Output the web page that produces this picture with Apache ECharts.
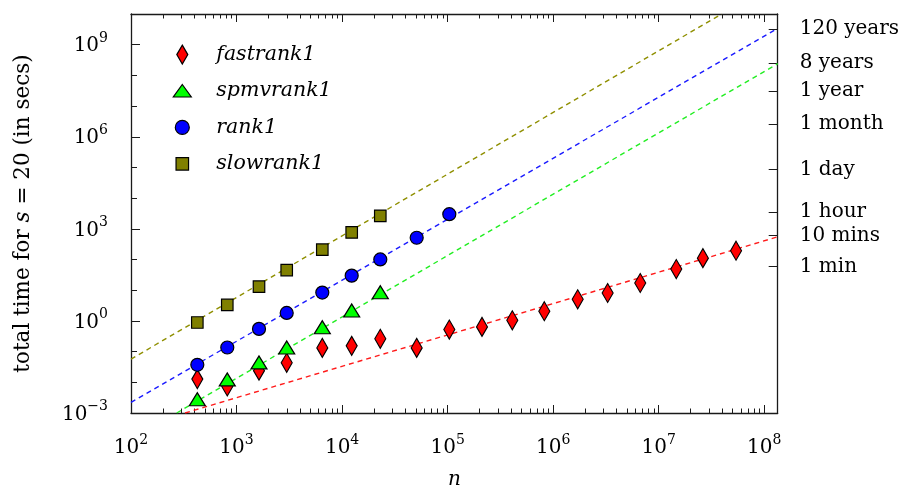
<!DOCTYPE html>
<html><head><meta charset="utf-8">
<script src="https://cdn.jsdelivr.net/npm/echarts@6/dist/echarts.min.js"></script>
<style>html,body{margin:0;padding:0;background:#fff}#c{width:903px;height:489px}</style>
</head><body><div id="c"></div>
<script>
// ---- data ----
const seriesNames = ['fastrank1', 'spmvrank1', 'rank1', 'slowrank1'];
const nSizes = [425, 817, 1632, 2987, 6493, 12330, 23010, 50900, 103700, 211600, 409800, 824000, 1707000, 3280000, 6680000, 14660000, 26200000, 54000000];
const fastTimes = [0.0127, 0.0073, 0.024, 0.0432, 0.132, 0.154, 0.262, 0.132, 0.525, 0.638, 1.05, 2.07, 5.07, 8.13, 17.2, 49, 111, 194];
const spmvTimes = [0.00279, 0.01245, 0.0445, 0.136, 0.624, 2.18, 8.56];
const rankTimes = [0.0372, 0.136, 0.550, 1.82, 8.37, 29.9, 101, 513, 3000];
const slowTimes = [0.887, 3.31, 13.1, 45.4, 209, 763, 2660];
// dashed fit lines, endpoints
const fitFast = [[325, 0.001], [1.34e8, 550]];
const fitSpmv = [[271, 0.001], [1.34e8, 2.4e8]];
const fitRank = [[100, 0.00223], [1.34e8, 3.4e9]];
const fitSlow = [[100, 0.057], [3.95e7, 1e10]];
// axes
const xMajorTicks = [1e2, 1e3, 1e4, 1e5, 1e6, 1e7, 1e8];
const yMajorTicks = [1e-3, 1, 1e3, 1e6, 1e9];
const yMinorTicks = [1e-2, 1e-1, 1e1, 1e2, 1e4, 1e5, 1e7, 1e8];
const timeTickValues = [3.2e9, 2.52e8, 3.15e7, 2.59e6, 86400, 3600, 600, 60];
const timeTickLabels = ['120 years', '8 years', '1 year', '1 month', '1 day', '1 hour', '10 mins', '1 min'];
const xTitle = 'n';
const yTitle = 'total time for {i|s} = 20 (in secs)';

const XMIN = 100, XMAX = 1.34e8, YMIN = 1e-3, YMAX = 1e10;
const xMinorTicks = [];
for (let d = 2; d <= 8; d++) for (let k = 2; k <= 9; k++) xMinorTicks.push(k * Math.pow(10, d));

const FONT = 'DejaVu Serif';
const INK = '#1a1a1a';
const rich = {
  b: {fontFamily: FONT, fontSize: 20, lineHeight: 23, verticalAlign: 'bottom', color: '#000'},
  s: {fontFamily: FONT, fontSize: 14, lineHeight: 14, padding: [0, 0, 11, 0], verticalAlign: 'bottom', color: '#000'}
};
function expLabel(v) {
  const e = Math.round(Math.log10(v));
  return '{b|10}{s|' + (e < 0 ? '\u2212' + (-e) : e) + '}';
}
function axLine(show) { return {show: show, onZero: false, lineStyle: {color: INK, width: 1.3}}; }
function xAx(pos, ticks, len, line, label, extra) {
  return Object.assign({
    type: 'log', logBase: 10, min: XMIN, max: XMAX, position: pos, gridIndex: 0,
    axisLine: axLine(line),
    axisTick: {show: true, inside: true, length: len, customValues: ticks, lineStyle: {color: INK, width: 1}},
    axisLabel: label || {show: false},
    splitLine: {show: false}, minorTick: {show: false}, minorSplitLine: {show: false}
  }, extra || {});
}
function yAx(pos, ticks, len, line, label, extra) {
  return Object.assign({
    type: 'log', logBase: 10, min: YMIN, max: YMAX, position: pos, gridIndex: 0,
    axisLine: axLine(line),
    axisTick: {show: true, inside: true, length: len, customValues: ticks, lineStyle: {color: INK, width: 1}},
    axisLabel: label || {show: false},
    splitLine: {show: false}, minorTick: {show: false}, minorSplitLine: {show: false}
  }, extra || {});
}

const pair = (times) => times.map((t, i) => [nSizes[i], t]);
const markerStyle = (c) => ({color: c, borderColor: '#000', borderWidth: 1.2, opacity: 1});
const dash = (c) => ({color: c, width: 1.4, type: [5, 4]});

const legendIcons = {
  fastrank1: 'path://M0,0M20,20M10,0.5L15.5,10L10,19.5L4.5,10Z',
  spmvrank1: 'path://M0,0M20,20M10,3.5L19,16L1,16Z',
  rank1: 'path://M0,0M20,20M3,10A7,7,0,1,1,17,10A7,7,0,1,1,3,10Z',
  slowrank1: 'path://M0,0M20,20M3.75,3.75L16.25,3.75L16.25,16.25L3.75,16.25Z'
};

const option = {
  animation: false,
  backgroundColor: '#fff',
  grid: {left: 131, right: 125.3, top: 14, bottom: 76, containLabel: false, outerBoundsMode: 'none'},
  legend: {
    orient: 'vertical', left: 166.7, top: 39, padding: 5,
    itemWidth: 58, itemHeight: 20, itemGap: 15.2,
    data: seriesNames.map(n => ({name: n, icon: legendIcons[n]})),
    itemStyle: {borderColor: '#000', borderWidth: 1.2},
    textStyle: {fontFamily: FONT, fontStyle: 'italic', fontSize: 20.5, color: '#000'},
    selectedMode: false
  },
  xAxis: [
    xAx('bottom', xMajorTicks, 8, true, {show: true, customValues: xMajorTicks, margin: 22, formatter: expLabel, rich: rich}, {
      name: xTitle, nameLocation: 'middle', nameGap: 57,
      nameTextStyle: {fontFamily: FONT, fontStyle: 'italic', fontSize: 20, color: '#000'}
    }),
    xAx('bottom', xMinorTicks, 4.5, false),
    xAx('top', xMajorTicks, 8, true),
    xAx('top', xMinorTicks, 4.5, false)
  ],
  yAxis: [
    yAx('left', yMajorTicks, 9, true, {show: true, customValues: yMajorTicks, margin: 23, formatter: expLabel, rich: rich}, {
      name: yTitle, nameLocation: 'middle', nameGap: 97, nameRotate: 90,
      nameTextStyle: {fontFamily: FONT, fontSize: 21.5, color: '#000', rich: {i: {fontFamily: FONT, fontStyle: 'italic', fontSize: 21.5, color: '#000'}}}
    }),
    yAx('left', yMinorTicks, 6, false),
    yAx('right', timeTickValues, 9, true, {
      show: true, customValues: timeTickValues, margin: 22,
      fontFamily: FONT, fontSize: 20, color: '#000',
      formatter: function (v) {
        let best = 0, bd = Infinity;
        timeTickValues.forEach((t, i) => { const d = Math.abs(Math.log10(t) - Math.log10(v)); if (d < bd) { bd = d; best = i; } });
        return timeTickLabels[best];
      }
    })
  ],
  series: [
    {type: 'line', data: fitFast, symbol: 'none', lineStyle: dash('#ff1a1a'), z: 1, silent: true, clip: true},
    {type: 'line', data: fitSpmv, symbol: 'none', lineStyle: dash('#22ee22'), z: 1, silent: true, clip: true},
    {type: 'line', data: fitRank, symbol: 'none', lineStyle: dash('#1a1aff'), z: 1, silent: true, clip: true},
    {type: 'line', data: fitSlow, symbol: 'none', lineStyle: dash('#8f8f00'), z: 1, silent: true, clip: true},
    {type: 'scatter', name: seriesNames[0], symbol: 'diamond', symbolSize: [11, 19], data: pair(fastTimes), itemStyle: markerStyle('#ff0000'), z: 3},
    {type: 'scatter', name: seriesNames[1], symbol: 'triangle', symbolSize: [16, 13], data: pair(spmvTimes), itemStyle: markerStyle('#00ff00'), z: 3},
    {type: 'scatter', name: seriesNames[2], symbol: 'circle', symbolSize: 13, data: pair(rankTimes), itemStyle: markerStyle('#0000ff'), z: 3},
    {type: 'scatter', name: seriesNames[3], symbol: 'rect', symbolSize: 11.5, data: pair(slowTimes), itemStyle: markerStyle('#808000'), z: 3}
  ]
};
const chart = echarts.init(document.getElementById('c'), null, {renderer: 'canvas'});
chart.setOption(option);
</script>
</body></html>
